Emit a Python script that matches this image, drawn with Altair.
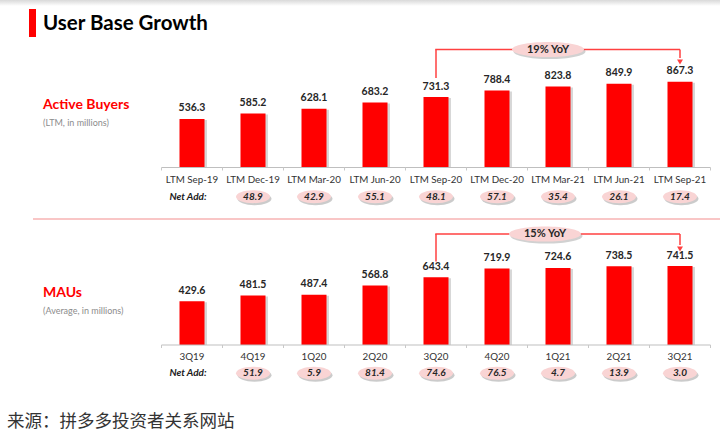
import altair as alt
import pandas as pd

# ---------------- data ----------------
title_text = ["User Base Growth"]
footer_text = ["来源：拼多多投资者关系网站"]

buyers_cats = ["LTM Sep-19", "LTM Dec-19", "LTM Mar-20", "LTM Jun-20", "LTM Sep-20",
               "LTM Dec-20", "LTM Mar-21", "LTM Jun-21", "LTM Sep-21"]
buyers_vals = [536.3, 585.2, 628.1, 683.2, 731.3, 788.4, 823.8, 849.9, 867.3]
buyers_net = [None, 48.9, 42.9, 55.1, 48.1, 57.1, 35.4, 26.1, 17.4]
buyers_label = ["Active Buyers"]
buyers_sub = ["(LTM, in millions)"]
buyers_yoy = ["19% YoY"]

mau_cats = ["3Q19", "4Q19", "1Q20", "2Q20", "3Q20", "4Q20", "1Q21", "2Q21", "3Q21"]
mau_vals = [429.6, 481.5, 487.4, 568.8, 643.4, 719.9, 724.6, 738.5, 741.5]
mau_net = [None, 51.9, 5.9, 81.4, 74.6, 76.5, 4.7, 13.9, 3.0]
mau_label = ["MAUs"]
mau_sub = ["(Average, in millions)"]
mau_yoy = ["15% YoY"]

net_label = ["Net Add:"]
yoy_from, yoy_to = 4, 8

# ---------------- styling ----------------
F = "Lato"
RED = "#ff0000"
X0, X1 = 161.5, 710.5
STEP = (X1 - X0) / 9
xscale = alt.Scale(domain=list(range(9)), range=[X0, X1], paddingInner=0.59, paddingOuter=0.295)


def ellipse(r):
    k = 0.5523
    return (f"M-1,0 C-1,{-r*k:.3f} {-k:.3f},{-r:.3f} 0,{-r:.3f} "
            f"C{k:.3f},{-r:.3f} 1,{-r*k:.3f} 1,0 "
            f"C1,{r*k:.3f} {k:.3f},{r:.3f} 0,{r:.3f} "
            f"C{-k:.3f},{r:.3f} -1,{r*k:.3f} -1,0 Z")


one = pd.DataFrame({"a": [0]})


def txt(text):
    return alt.Chart(pd.DataFrame({"t": text}))


def panel(cats, vals, nets, ysc, base, axis_y, cat_y, net_y, name, sub, name_y,
          yoy_text, yoy_y, yoy_left_top, yoy_arrow_y, yoy_ell_x):
    df = pd.DataFrame({"i": list(range(9)), "c": cats, "v": vals, "n": nets})
    X = alt.X("i:O", scale=xscale, axis=None)
    Y = alt.Y("v:Q", scale=ysc, axis=None)
    layers = []
    # bar shadow
    layers.append(alt.Chart(df).mark_bar(color="#8c8c8c", opacity=0.35, xOffset=2.5, yOffset=1)
                  .encode(x=X, y=Y, y2=alt.datum(base)))
    layers.append(alt.Chart(df).mark_bar(color=RED).encode(x=X, y=Y, y2=alt.datum(base)))
    layers.append(alt.Chart(df).mark_text(font=F, fontSize=10.5, fontWeight="bold", color="#262626",
                                          baseline="middle", dy=-10.5)
                  .encode(x=X, y=Y, text=alt.Text("v:Q", format=".1f")))
    # axis line + ticks
    layers.append(alt.Chart(one).mark_rule(color="#bfbfbf", strokeWidth=1)
                  .encode(x=alt.value(X0), x2=alt.value(X1), y=alt.value(axis_y)))
    layers.append(alt.Chart(df).mark_rule(color="#c8c8c8", strokeWidth=1, xOffset=-STEP / 2)
                  .encode(x=X, y=alt.value(axis_y), y2=alt.value(axis_y + 3)))
    layers.append(alt.Chart(df).transform_filter("datum.i == 8")
                  .mark_rule(color="#c8c8c8", strokeWidth=1, xOffset=STEP / 2)
                  .encode(x=X, y=alt.value(axis_y), y2=alt.value(axis_y + 3)))
    # category labels
    layers.append(alt.Chart(df).mark_text(font=F, fontSize=9.8, color="#333333", baseline="middle")
                  .encode(x=X, y=alt.value(cat_y), text="c:N"))
    # net add ellipses
    ndf = df.dropna(subset=["n"])
    layers.append(alt.Chart(ndf).mark_point(shape=ellipse(0.38), filled=True, color="#8c8c8c",
                                            opacity=0.45, size=34 * 34, xOffset=1.5, yOffset=2)
                  .encode(x=X, y=alt.value(net_y)))
    layers.append(alt.Chart(ndf).mark_point(shape=ellipse(0.38), filled=True, color="#f9d4d4",
                                            opacity=1, size=34 * 34)
                  .encode(x=X, y=alt.value(net_y)))
    layers.append(alt.Chart(ndf).mark_text(font=F, fontSize=10, fontWeight="bold", fontStyle="italic",
                                           color="#262626", baseline="middle")
                  .encode(x=X, y=alt.value(net_y), text=alt.Text("n:Q", format=".1f")))
    layers.append(txt(net_label).mark_text(font=F, fontSize=10, fontWeight="bold", fontStyle="italic",
                                           color="#1a1a1a", baseline="middle", align="center")
                  .encode(x=alt.value(188), y=alt.value(net_y), text="t:N"))
    # section labels
    layers.append(txt(name).mark_text(font=F, fontSize=14, fontWeight="bold", color=RED,
                                      baseline="middle", align="left")
                  .encode(x=alt.value(43), y=alt.value(name_y), text="t:N"))
    layers.append(txt(sub).mark_text(font=F, fontSize=9, color="#8c8c8c",
                                     baseline="middle", align="left")
                  .encode(x=alt.value(43), y=alt.value(name_y + 18), text="t:N"))
    # YoY annotation
    ydf = pd.DataFrame({"f": [yoy_from], "to": [yoy_to], "t": yoy_text})
    LC = "#ff4040"
    XF = alt.X("f:O", scale=xscale, axis=None)
    XT = alt.X("to:O", scale=xscale, axis=None)
    layers.append(alt.Chart(ydf).mark_rule(color=LC, strokeWidth=1.5)
                  .encode(x=XF, y=alt.value(yoy_left_top), y2=alt.value(yoy_y)))
    layers.append(alt.Chart(ydf).mark_rule(color=LC, strokeWidth=1.5)
                  .encode(x=XT, y=alt.value(yoy_y), y2=alt.value(yoy_arrow_y - 4)))
    layers.append(alt.Chart(ydf).mark_rule(color=LC, strokeWidth=1.5, xOffset=-0.75)
                  .encode(x=alt.X("f:O", scale=xscale, axis=None, bandPosition=0.5),
                          x2=alt.X2("to:O", bandPosition=0.5), y=alt.value(yoy_y)))
    layers.append(alt.Chart(ydf).mark_point(shape="triangle-down", filled=True, color=LC,
                                            opacity=1, size=35)
                  .encode(x=XT, y=alt.value(yoy_arrow_y)))
    layers.append(alt.Chart(ydf).mark_point(shape=ellipse(0.21), filled=True, color="#8c8c8c",
                                            opacity=0.4, size=72 * 72, xOffset=1.5, yOffset=2)
                  .encode(x=alt.value(yoy_ell_x), y=alt.value(yoy_y)))
    layers.append(alt.Chart(ydf).mark_point(shape=ellipse(0.21), filled=True, color="#f9d4d4",
                                            opacity=1, size=72 * 72)
                  .encode(x=alt.value(yoy_ell_x), y=alt.value(yoy_y)))
    layers.append(alt.Chart(ydf).mark_text(font=F, fontSize=11, fontWeight="bold", color="#262626",
                                           baseline="middle")
                  .encode(x=alt.value(yoy_ell_x), y=alt.value(yoy_y), text="t:N"))
    return layers


top = panel(buyers_cats, buyers_vals, buyers_net,
            alt.Scale(domain=[106, 900], range=[167.5, 78.0], zero=False, nice=False), 106,
            167.5, 180, 196.7, buyers_label, buyers_sub, 105,
            buyers_yoy, 49.5, 78, 62, 548)
bottom = panel(mau_cats, mau_vals, mau_net,
               alt.Scale(domain=[44, 800], range=[345.0, 259.4], zero=False, nice=False), 44,
               345, 357.3, 373.3, mau_label, mau_sub, 292.7,
               mau_yoy, 234, 261.5, 249, 545)

common = []
# top shadow strip
common.append(alt.Chart(one).mark_rect(
    color=alt.LinearGradient(gradient="linear", x1=0, y1=0, x2=0, y2=1,
                             stops=[alt.GradientStop(color="#d9d9d9", offset=0),
                                    alt.GradientStop(color="#ffffff", offset=1)]))
    .encode(x=alt.value(0), x2=alt.value(720), y=alt.value(0), y2=alt.value(6)))
common.append(alt.Chart(one).mark_rect(color=RED)
              .encode(x=alt.value(29), x2=alt.value(36), y=alt.value(9), y2=alt.value(37)))
common.append(txt(title_text).mark_text(font=F, fontSize=20.5, fontWeight="bold", color="#000000",
                                        baseline="middle", align="left")
              .encode(x=alt.value(43), y=alt.value(23.5), text="t:N"))
common.append(alt.Chart(one).mark_rule(color="#f9c6c6", strokeWidth=2)
              .encode(x=alt.value(33), x2=alt.value(720), y=alt.value(219)))
common.append(txt(footer_text).mark_text(font="Noto Sans CJK SC", fontSize=17.5, color="#333333",
                                         baseline="middle", align="left")
              .encode(x=alt.value(7), y=alt.value(422), text="t:N"))

chart = (alt.layer(*common, *top, *bottom)
         .resolve_scale(y="independent")
         .properties(width=720, height=444, autosize=alt.AutoSizeParams(type="none"), padding=0)
         .configure_view(strokeWidth=0))

chart.save("out.html", embed_options={"renderer": "svg", "actions": False})
